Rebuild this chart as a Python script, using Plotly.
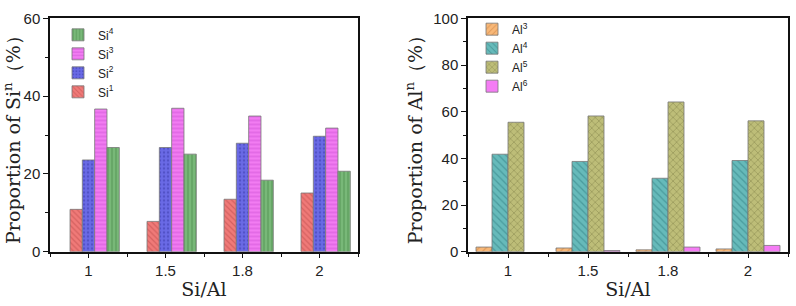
import plotly.graph_objects as go

categories = ["1", "1.5", "1.8", "2"]

si_names = ["Si<sup>1</sup>", "Si<sup>2</sup>", "Si<sup>3</sup>", "Si<sup>4</sup>"]
si1 = [10.9, 7.8, 13.5, 15.1]
si2 = [23.6, 26.8, 27.9, 29.7]
si3 = [36.7, 36.9, 34.9, 31.8]
si4 = [26.8, 25.1, 18.4, 20.7]

al_names = ["Al<sup>3</sup>", "Al<sup>4</sup>", "Al<sup>5</sup>", "Al<sup>6</sup>"]
al3 = [2.0, 1.6, 0.8, 1.2]
al4 = [41.8, 38.7, 31.5, 39.1]
al5 = [55.5, 58.2, 64.2, 56.1]
al6 = [None, 0.5, 2.0, 2.7]

si_tick_vals = [0, 20, 40, 60]
al_tick_vals = [0, 20, 40, 60, 80, 100]

xpos = list(range(len(categories)))

W, H = 796, 306
def px(x):
    return x / W
def py(y):
    return 1 - y / H

si_styles = [
    dict(bg="#F07A78", fg="#B84848", shape="\\"),
    dict(bg="#6A6AE6", fg="#3A3AA8", shape="."),
    dict(bg="#F27CF2", fg="#C040C8", shape="-"),
    dict(bg="#78B878", fg="#3E803E", shape="|"),
]
al_styles = [
    dict(bg="#F8B878", fg="#C88040", shape="/"),
    dict(bg="#66BABA", fg="#2E7C80", shape="\\"),
    dict(bg="#BDBD78", fg="#6E6E3A", shape="x"),
    dict(bg="#F47CF4", fg="#F47CF4", shape=""),
]

fig = go.Figure()

for i, (name, vals, st) in enumerate(zip(si_names, [si1, si2, si3, si4], si_styles)):
    fig.add_trace(go.Bar(
        x=xpos, y=vals, name=name, xaxis="x", yaxis="y", legend="legend",
        width=0.16, offset=-0.4 + 0.16 * (i + 1),
        marker=dict(color=st["bg"], line=dict(color="#777777", width=0.8),
                    pattern=dict(shape=st["shape"], fgcolor=st["fg"], bgcolor=st["bg"],
                                 size=4, solidity=0.3)),
    ))

for i, (name, vals, st) in enumerate(zip(al_names, [al3, al4, al5, al6], al_styles)):
    fig.add_trace(go.Bar(
        x=xpos, y=vals, name=name, xaxis="x2", yaxis="y2", legend="legend2",
        width=0.2, offset=-0.4 + 0.2 * i,
        marker=dict(color=st["bg"], line=dict(color="#777777", width=0.8),
                    pattern=dict(shape=st["shape"], fgcolor=st["fg"], bgcolor=st["bg"],
                                 size=5, solidity=0.25)),
    ))

tick_font = dict(family="Liberation Sans, Arial", size=15, color="#222222")
title_font = dict(family="DejaVu Serif, Liberation Serif", size=19, color="#222222")
legend_font = dict(family="Liberation Sans, Arial", size=12, color="#222")

def xaxis(domain, anchor):
    return dict(
        domain=domain, anchor=anchor, range=[-0.5, 3.5],
        tickvals=xpos, ticktext=categories,
        ticks="outside", ticklen=5, tickwidth=1.2, tickcolor="#111",
        minor=dict(dtick=0.5, tick0=0.5, ticks="outside", ticklen=4, tickwidth=1.2, tickcolor="#111",
                   showgrid=False),
        showline=True, linecolor="#111", linewidth=1.5, mirror=True,
        showgrid=False, zeroline=False, tickfont=tick_font,
        title=dict(text="Si/Al", font=title_font, standoff=4),
    )

def yaxis(domain, anchor, rng, tv, title):
    return dict(
        domain=domain, anchor=anchor, range=rng, tickvals=tv,
        ticks="outside", ticklen=5, tickwidth=1.2, tickcolor="#111",
        minor=dict(dtick=10, ticks="outside", ticklen=3, tickwidth=1.2, tickcolor="#111",
                   showgrid=False),
        showline=True, linecolor="#111", linewidth=1.5, mirror=True,
        showgrid=False, zeroline=False, tickfont=tick_font,
        title=dict(text=title, font=title_font, standoff=6),
    )

fig.update_layout(
    width=W, height=H,
    margin=dict(l=0, r=0, t=0, b=0),
    paper_bgcolor="white", plot_bgcolor="white",
    showlegend=True,
    xaxis=xaxis([px(50), px(358)], "y"),
    yaxis=yaxis([py(257), py(10)], "x", [0, 60], si_tick_vals, "Proportion of Si<sup>n</sup>（%）"),
    xaxis2=xaxis([px(468), px(788)], "y2"),
    yaxis2=yaxis([py(257), py(10)], "x2", [0, 100], al_tick_vals, "Proportion of Al<sup>n</sup>（%）"),
    legend=dict(x=px(58), y=py(12), xanchor="left", yanchor="top", traceorder="reversed",
                bgcolor="rgba(0,0,0,0)", font=legend_font, tracegroupgap=0, itemwidth=30),
    legend2=dict(x=px(472), y=py(6), xanchor="left", yanchor="top", traceorder="normal",
                 bgcolor="rgba(0,0,0,0)", font=legend_font, tracegroupgap=0, itemwidth=30),
)

fig.write_html("out.html")
